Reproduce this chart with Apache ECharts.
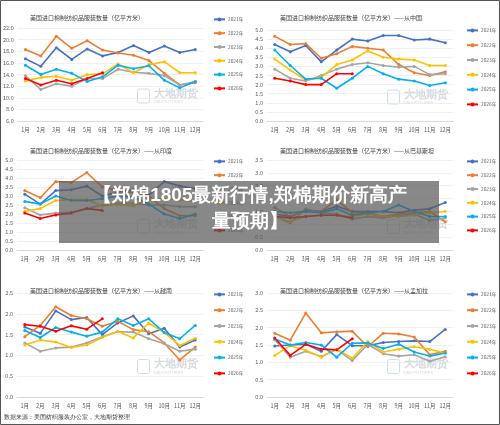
<!DOCTYPE html>
<html><head><meta charset="utf-8">
<script src="https://cdn.jsdelivr.net/npm/echarts@6/dist/echarts.min.js"></script>
<style>html,body{margin:0;padding:0;background:#fff}#c{width:500px;height:425px}</style>
</head><body><div id="c"></div>
<script>
const months = ['1月','2月','3月','4月','5月','6月','7月','8月','9月','10月','11月','12月'];
const years = ['2021年','2022年','2023年','2024年','2025年','2026年'];
const colors = ['#4472C4','#ED7D31','#A5A5A5','#FFC000','#00B0F0','#FF0000'];

const totalData = [
  [16.7,15.4,18.6,16.6,18.4,17.2,17.8,19.0,17.8,18.9,17.8,18.3],
  [18.3,17.2,20.6,18.5,19.8,18.2,17.7,17.3,16.4,14.2,12.2,12.6],
  [13.8,11.4,12.4,12.0,13.3,13.3,14.9,14.4,14.2,13.8,12.2,12.8],
  [12.9,13.5,13.7,13.0,14.0,14.1,15.8,14.3,15.7,16.2,14.3,14.3],
  [15.6,14.0,14.9,14.2,12.8,13.6,15.6,15.0,15.5,13.0,11.7,12.8],
  [13.3,12.2,13.0,12.4,13.3,14.3]
];
const chinaData = [
  [4.2,3.8,4.15,3.25,3.9,4.5,4.4,4.7,4.7,4.45,4.5,4.3],
  [4.65,4.2,4.25,3.45,3.7,4.1,4.0,3.9,3.1,2.65,2.5,2.7],
  [2.85,2.35,2.2,2.5,2.85,3.1,3.2,3.05,2.95,3.0,2.55,2.6],
  [3.4,2.8,2.25,2.4,3.1,3.35,3.85,3.5,3.4,3.35,3.05,3.05],
  [3.9,3.05,2.3,2.35,1.8,2.35,3.0,2.6,2.3,2.2,1.95,2.1],
  [2.35,2.2,2.0,2.0,2.6,2.6]
];
const indiaData = [
  [3.1,2.55,3.3,3.35,3.55,3.0,3.2,3.35,3.05,3.8,3.55,3.4],
  [3.3,2.9,3.8,3.75,4.3,3.5,3.3,3.2,3.0,2.3,1.9,1.9],
  [2.35,1.95,2.05,2.1,2.3,2.5,2.6,2.6,2.5,2.5,2.4,2.4],
  [2.15,2.3,2.75,2.8,2.8,2.45,2.55,2.45,2.8,2.85,2.8,2.7],
  [2.7,2.55,3.0,2.75,2.75,2.85,3.0,2.95,2.55,2.0,1.75,2.0],
  [2.05,1.75,1.95,2.05,2.3,2.2]
];
const pakistanData = [
  [1.4,1.3,1.55,1.5,1.7,1.5,1.5,1.5,1.45,1.55,1.6,1.85],
  [1.65,1.3,1.55,1.5,1.95,1.45,1.45,1.3,1.4,1.45,1.5,1.1],
  [1.3,1.05,1.6,1.45,1.4,1.2,1.3,1.25,1.35,1.4,1.15,1.25],
  [1.3,1.1,1.3,1.35,1.35,1.3,1.4,1.3,1.3,1.35,1.45,1.5],
  [1.5,1.45,1.5,1.45,1.6,1.35,1.45,1.5,1.75,1.5,1.3,1.3],
  [1.3,1.25,1.3,1.35,1.35,1.25]
];
const vietnamData = [
  [1.68,1.53,2.07,1.86,1.91,1.5,1.78,1.95,1.52,1.65,1.2,1.37],
  [1.45,1.72,2.17,1.96,1.88,1.7,1.82,1.62,1.57,1.3,0.89,1.2],
  [1.3,1.1,1.18,1.2,1.3,1.45,1.57,1.56,1.4,1.28,1.1,1.15],
  [1.25,1.37,1.32,1.19,1.25,1.43,1.58,1.42,1.78,1.55,1.24,1.41],
  [1.6,1.43,1.67,1.56,1.46,1.56,1.88,1.72,1.88,1.55,1.4,1.72],
  [1.74,1.7,1.58,1.71,1.63,1.88]
];
const bangladeshData = [
  [1.47,1.5,1.52,1.32,1.8,1.48,1.48,1.57,1.6,1.62,1.6,1.95],
  [1.84,1.64,2.42,1.85,1.88,1.9,1.45,1.84,1.82,1.73,1.22,1.32],
  [1.65,1.15,1.32,1.17,1.37,1.05,1.52,1.25,1.18,1.22,1.03,1.16],
  [1.2,1.48,1.35,1.15,1.38,1.12,1.6,1.3,1.38,1.45,1.38,1.27],
  [1.67,1.5,1.57,1.5,1.15,1.55,1.56,1.4,1.52,1.3,1.18,1.27],
  [1.7,1.2,1.52,1.38,1.36,1.68]
];

const base = '美国进口棉制纺织品服装数量（亿平方米）';
const panels = [
  {data: totalData, title: base, x: 0, y: 0, top: 28, bot: 121, min: 6, max: 22, step: 2, legTop: 17, gap: 9},
  {data: chinaData, title: base + '——从中国', x: 250, y: 0, top: 30, bot: 121, min: 0, max: 5, step: 0.5, legTop: 28, gap: 10},
  {data: indiaData, title: base + '——从印度', x: 0, y: 140, top: 160, bot: 250, min: 0, max: 5, step: 0.5, legTop: 159, gap: 9},
  {data: pakistanData, title: base + '——从巴基斯坦', x: 250, y: 140, top: 160, bot: 250, min: 0, max: 3.5, step: 0.5, legTop: 159, gap: 9},
  {data: vietnamData, title: base + '——从越南', x: 0, y: 280, top: 293, bot: 397, min: 0, max: 2.5, step: 0.5, legTop: 292, gap: 11},
  {data: bangladeshData, title: base + '——从孟加拉', x: 250, y: 280, top: 293, bot: 397, min: 0, max: 3, step: 0.5, legTop: 292, gap: 11}
];

const option = {
  animation: false,
  textStyle: {fontFamily: 'Noto Sans CJK SC'},
  title: [], grid: [], xAxis: [], yAxis: [], legend: [], series: [],
  graphic: []
};
panels.forEach(function (p, i) {
  option.title.push({
    text: p.title, left: p.x + 25, top: p.y + (i < 2 ? 10 : 3),
    textStyle: {fontSize: 6, color: '#404040', fontWeight: 'normal'}
  });
  option.grid.push({left: p.x + 17, width: 186, top: p.top, height: p.bot - p.top});
  option.xAxis.push({
    type: 'category', gridIndex: i, data: months,
    axisLine: {lineStyle: {color: '#d9d9d9'}}, axisTick: {show: false},
    axisLabel: {fontSize: 5.5, color: '#595959', margin: 6}
  });
  option.yAxis.push({
    type: 'value', gridIndex: i, min: p.min, max: p.max, interval: p.step,
    axisLabel: {fontSize: 5.5, color: '#595959', margin: 4, formatter: v => v.toFixed(1)},
    splitLine: {lineStyle: {color: '#e6e6e6', width: 0.6}}
  });
  option.legend.push({
    data: years, orient: 'vertical', left: p.x + (i % 2 ? 216 : 213), top: p.legTop,
    itemGap: p.gap, itemWidth: 11, itemHeight: 5, padding: 0,
    textStyle: {fontSize: 4.8, color: '#595959', padding: [0, 0, 0, -2]}
  });
  p.data.forEach(function (d, k) {
    option.series.push({
      name: years[k], type: 'line', xAxisIndex: i, yAxisIndex: i, data: d,
      color: colors[k], symbol: 'circle', symbolSize: 3,
      lineStyle: {width: 1.6}
    });
  });
  option.graphic.push({
    type: 'group', left: p.x + 135, top: (p.top + p.bot) / 2 + 12, z: 0,
    children: [
      {type: 'rect', shape: {x: 0, y: 0, width: 12, height: 14, r: 2}, style: {fill: 'none', stroke: '#cfdcec', lineWidth: 1}},
      {type: 'text', left: 16, top: -1, style: {text: '大地期货', fontSize: 11, fill: '#d5d9e0', fontWeight: 'bold'}},
      {type: 'text', left: 16, top: 11, style: {text: 'DADI FUTURES', fontSize: 4, fill: '#d5d9e0'}}
    ]
  });
});
option.graphic.push(
  {type: 'rect', shape: {x: 0.5, y: 0.5, width: 499, height: 424}, style: {fill: 'none', stroke: '#555', lineWidth: 1}},
  {type: 'text', left: 4, top: 414, style: {text: '数据来源：美国纺织服装办公室，大地期货整理', fontSize: 6, fill: '#333'}},
  {type: 'rect', z: 100, shape: {x: 59, y: 181, width: 380, height: 62}, style: {fill: 'rgba(90,90,90,0.72)'}},
  {type: 'text', z: 101, left: 'center', top: 186, style: {text: '【郑棉1805最新行情,郑棉期价新高产', fontSize: 19, fontWeight: 'bold', fill: '#fff'}},
  {type: 'text', z: 101, left: 'center', top: 212, style: {text: '量预期】', fontSize: 19, fontWeight: 'bold', fill: '#fff'}}
);
echarts.init(document.getElementById('c')).setOption(option);
</script></body></html>
